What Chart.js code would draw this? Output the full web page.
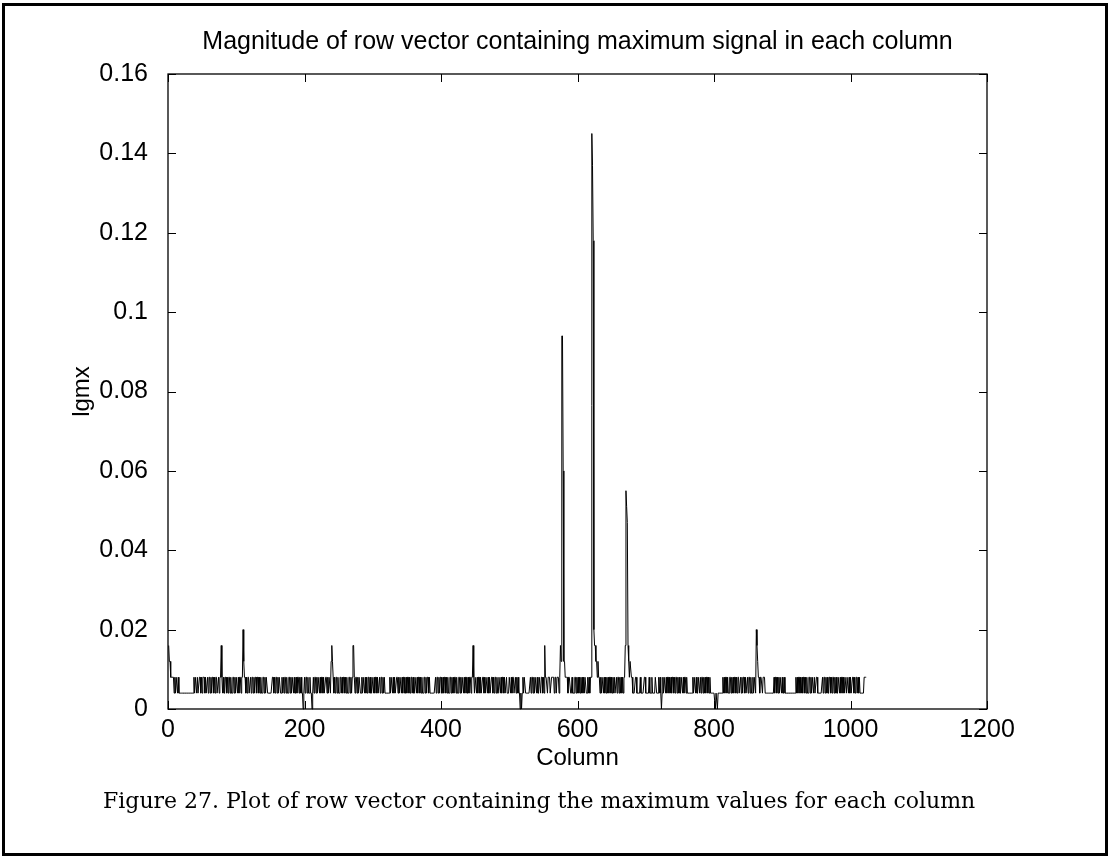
<!DOCTYPE html>
<html>
<head>
<meta charset="utf-8">
<script src="https://cdn.jsdelivr.net/npm/chart.js@4.4.1/dist/chart.umd.min.js"></script>
<style>
html, body { margin: 0; padding: 0; background: #fff; }
#wrap { position: relative; width: 1111px; height: 860px; overflow: hidden; background: #fff; }
#c { position: absolute; left: 0; top: 0; }
#frame { position: absolute; left: 2px; top: 3px; width: 1100px; height: 847px; border: 3px solid #000; pointer-events: none; }
#caption { position: absolute; left: 103px; top: 788px; white-space: nowrap; font-family: "DejaVu Serif", "Liberation Serif", serif; font-size: 22px; line-height: 26px; color: #000; }
</style>
</head>
<body>
<div id="wrap">
  <canvas id="c" width="1111" height="860"></canvas>
  <div id="frame"></div>
  <div id="caption">Figure 27. Plot of row vector containing the maximum values for each column</div>
</div>
<script>
// ---- text ----
const chartTitle = 'Magnitude of row vector containing maximum signal in each column';
const xAxisTitle = 'Column';
const yAxisTitle = 'lgmx';

// ---- ticks ----
const xTickValues = [0, 200, 400, 600, 800, 1000, 1200];
const xTickLabels = ['0', '200', '400', '600', '800', '1000', '1200'];
const yTickValues = [0, 0.02, 0.04, 0.06, 0.08, 0.1, 0.12, 0.14, 0.16];
const yTickLabels = ['0', '0.02', '0.04', '0.06', '0.08', '0.1', '0.12', '0.14', '0.16'];

// ---- series: lgmx value for each column (1..1024) ----
const lgmx = [
.016,.012,.012,.008,.008,.008,.008,.008,.004,.008,.004,.008,.008,.004,.008,.004,.004,.004,.004,.004,.004,.004,.004,.004,.004,.004,.004,.004,.004,.004,.004,.004,
.004,.004,.004,.004,.004,.008,.004,.008,.008,.004,.008,.004,.004,.008,.008,.004,.008,.004,.008,.008,.008,.004,.008,.004,.004,.008,.004,.008,.008,.004,.008,.004,
.008,.008,.004,.008,.004,.008,.008,.004,.004,.008,.004,.008,.008,.016,.008,.004,.008,.004,.004,.008,.008,.004,.008,.004,.008,.008,.004,.008,.004,.004,.008,.008,
.004,.008,.004,.008,.008,.004,.008,.004,.008,.008,.004,.008,.008,.02,.012,.008,.008,.004,.008,.004,.008,.008,.004,.004,.008,.004,.008,.008,.004,.008,.004,.008,
.008,.004,.008,.008,.004,.008,.004,.008,.004,.004,.008,.008,.004,.008,.004,.008,.008,.004,.004,.004,.004,.004,.004,.004,.008,.008,.004,.008,.004,.008,.008,.004,
.008,.004,.008,.008,.004,.004,.008,.004,.008,.004,.008,.008,.004,.008,.004,.004,.008,.008,.004,.008,.004,.008,.008,.004,.008,.004,.004,.008,.004,.008,.008,.004,
.008,.004,.008,.004,.004,0,.004,.008,.004,.008,.008,.004,.008,.004,.004,.008,.004,.004,0,.004,.008,.004,.008,.008,.004,.008,.004,.008,.008,.004,.008,.004,
.008,.008,.004,.008,.004,.004,.008,.008,.004,.008,.004,.008,.008,.004,.012,.016,.012,.008,.004,.008,.004,.008,.008,.004,.008,.004,.004,.008,.008,.004,.008,.004,
.008,.008,.004,.008,.004,.008,.004,.004,.008,.008,.004,.008,.004,.008,.016,.016,.008,.004,.008,.008,.004,.008,.004,.008,.008,.004,.004,.008,.004,.008,.008,.004,
.008,.004,.008,.004,.008,.008,.004,.008,.004,.004,.008,.008,.004,.008,.004,.008,.008,.004,.008,.004,.004,.008,.004,.008,.008,.004,.008,.004,.008,.004,.004,.004,
.004,.004,.004,.004,.008,.004,.008,.008,.004,.008,.004,.008,.004,.004,.008,.008,.004,.008,.004,.008,.008,.004,.008,.004,.008,.008,.004,.004,.008,.004,.008,.008,
.004,.008,.004,.008,.008,.004,.008,.004,.004,.008,.008,.004,.008,.004,.008,.008,.004,.008,.004,.008,.004,.004,.008,.008,.004,.008,.004,.008,.008,.004,.008,.004,
.004,.004,.004,.004,.004,.004,.004,.008,.004,.008,.008,.004,.008,.004,.008,.008,.004,.004,.008,.004,.008,.008,.004,.008,.004,.008,.004,.004,.008,.008,.004,.008,
.004,.008,.004,.008,.008,.004,.008,.004,.004,.008,.008,.004,.008,.004,.008,.008,.004,.008,.004,.008,.008,.004,.004,.008,.004,.008,.008,.004,.008,.008,.016,.008,
.004,.008,.008,.004,.008,.004,.008,.008,.004,.008,.004,.004,.008,.008,.004,.008,.004,.008,.008,.004,.008,.004,.008,.004,.004,.008,.008,.004,.008,.004,.008,.008,
.004,.008,.004,.004,.008,.008,.004,.008,.004,.008,.008,.004,.008,.004,.004,.008,.004,.004,.004,.008,.008,.004,.008,.004,.008,.008,.004,.004,.008,.004,.008,.004,
.008,.004,.004,0,.004,0,.004,.008,.004,.008,.008,.004,.004,.004,.004,.004,.004,.004,.008,.004,.008,.008,.004,.008,.004,.008,.008,.004,.008,.004,.004,.008,
.008,.004,.008,.008,.004,.008,.004,.016,.008,.008,.008,.004,.008,.008,.008,.004,.004,.008,.008,.008,.008,.004,.008,.008,.004,.008,.008,.008,.004,.008,.016,.012,
.094,.094,.06,.012,.012,.008,.008,.008,.008,.004,.008,.008,.008,.004,.004,.008,.004,.004,.004,.008,.008,.004,.008,.004,.008,.004,.008,.004,.008,.004,.008,.004,
.008,.004,.008,.008,.004,.004,.008,.004,.008,.004,.008,.008,.145,.137,.118,.02,.016,.016,.012,.012,.008,.012,.008,.008,.004,.008,.004,.008,.008,.004,.008,.004,
.008,.004,.008,.004,.008,.004,.008,.008,.004,.008,.004,.008,.004,.008,.004,.004,.008,.004,.008,.008,.004,.008,.004,.008,.004,.008,.004,.008,.008,.016,.055,.051,
.047,.016,.012,.008,.012,.012,.008,.008,.004,.004,.004,.004,.008,.008,.004,.004,.004,.004,.004,.008,.004,.004,.004,.004,.004,.008,.008,.004,.004,.004,.004,.004,
.008,.004,.004,.004,.008,.004,.004,.004,.004,.008,.008,.004,.004,.004,.008,.004,.008,.004,0,.004,.008,.004,.008,.008,.004,.008,.004,.008,.008,.004,.008,.004,
.008,.004,.008,.008,.004,.008,.004,.008,.008,.004,.008,.004,.008,.004,.004,.008,.008,.004,.008,.004,.008,.008,.004,.008,.004,.004,.004,.004,.004,.004,.004,.004,
.008,.004,.008,.008,.004,.008,.004,.004,.008,.008,.004,.008,.004,.008,.008,.004,.008,.004,.008,.004,.008,.008,.004,.008,.004,.008,.004,.004,.004,.004,.004,.004,
.004,0,.004,.004,0,.004,.004,.004,.004,.004,.004,.004,.008,.004,.008,.004,.008,.008,.004,.008,.004,.004,.008,.008,.004,.008,.004,.008,.004,.008,.008,.004,
.008,.004,.008,.008,.004,.004,.008,.004,.008,.004,.008,.008,.004,.008,.004,.004,.008,.004,.008,.008,.004,.008,.004,.004,.008,.004,.008,.008,.004,.02,.016,.012,
.008,.008,.004,.008,.008,.008,.004,.008,.008,.008,.004,.004,.004,.004,.004,.004,.004,.004,.004,.004,.004,.004,.004,.008,.004,.008,.008,.004,.008,.004,.008,.004,
.008,.008,.004,.008,.004,.004,.008,.004,.004,.004,.004,.004,.004,.004,.004,.004,.004,.004,.004,.004,.004,.004,.004,.008,.004,.008,.004,.008,.008,.004,.008,.004,
.008,.004,.008,.008,.004,.008,.004,.008,.004,.004,.008,.008,.004,.008,.004,.008,.008,.004,.008,.004,.004,.008,.008,.004,.004,.004,.004,.004,.004,.004,.008,.004,
.008,.008,.004,.008,.004,.008,.004,.004,.008,.008,.004,.008,.004,.008,.008,.004,.008,.004,.008,.004,.004,.008,.008,.004,.008,.004,.008,.008,.004,.008,.004,.008,
.008,.004,.008,.008,.004,.008,.004,.008,.004,.004,.008,.008,.004,.008,.004,.008,.008,.004,.008,.004,.008,.004,.004,.004,.004,.004,.004,.008,.008,.008,.008,.008
];
// column index of each value
const columns = lgmx.map((_, i) => i + 1);

const FONT = '"Liberation Sans", Arial, Helvetica, sans-serif';

const matlabBox = {
  id: 'matlabBox',
  beforeDatasetsDraw(chart) {
    const { ctx, chartArea: a, scales: { x, y } } = chart;
    ctx.save();
    ctx.strokeStyle = '#000';
    ctx.lineWidth = 1.3;
    ctx.strokeRect(a.left, a.top, a.right - a.left, a.bottom - a.top);
    ctx.lineWidth = 1;
    const tl = 8;
    ctx.beginPath();
    x.ticks.forEach(t => {
      const px = Math.round(x.getPixelForValue(t.value)) + 0.5;
      ctx.moveTo(px, a.bottom); ctx.lineTo(px, a.bottom - tl);
      ctx.moveTo(px, a.top); ctx.lineTo(px, a.top + tl);
    });
    y.ticks.forEach(t => {
      const py = Math.round(y.getPixelForValue(t.value)) + 0.5;
      ctx.moveTo(a.left, py); ctx.lineTo(a.left + tl, py);
      ctx.moveTo(a.right, py); ctx.lineTo(a.right - tl, py);
    });
    ctx.stroke();
    ctx.restore();
  }
};

new Chart(document.getElementById('c'), {
  type: 'line',
  data: {
    datasets: [{
      label: yAxisTitle,
      data: columns.map((c, i) => ({ x: c, y: lgmx[i] })),
      borderColor: '#000',
      borderWidth: 1,
      pointRadius: 0,
      tension: 0,
      fill: false,
      clip: 4
    }]
  },
  options: {
    responsive: false,
    animation: false,
    devicePixelRatio: 1,
    layout: { padding: { left: 0, right: 124, top: 0, bottom: 0 } },
    plugins: {
      legend: { display: false },
      tooltip: { enabled: false },
      title: {
        display: true,
        fullSize: false,
        text: chartTitle,
        color: '#000',
        font: { family: FONT, size: 25, weight: 'normal', lineHeight: 1.2 },
        padding: { top: 27, bottom: 17 }
      }
    },
    scales: {
      x: {
        type: 'linear',
        min: 0, max: 1200,
        afterBuildTicks: s => { s.ticks = xTickValues.map(v => ({ value: v })); },
        afterFit: s => { s.height = 151; },
        ticks: {
          callback: (v, i) => xTickLabels[i],
          color: '#000',
          font: { family: FONT, size: 25 },
          padding: 6, maxRotation: 0, autoSkip: false
        },
        grid: { display: false, drawTicks: false },
        border: { display: false },
        title: {
          display: true, text: xAxisTitle, color: '#000',
          font: { family: FONT, size: 24, lineHeight: 1.2 },
          padding: { top: 0, bottom: 87 }
        }
      },
      y: {
        type: 'linear',
        min: 0, max: 0.16,
        afterBuildTicks: s => { s.ticks = yTickValues.map(v => ({ value: v })); },
        afterFit: s => { s.width = 168; },
        ticks: {
          callback: (v, i) => yTickLabels[i],
          color: '#000',
          font: { family: FONT, size: 25 },
          padding: 20, autoSkip: false
        },
        grid: { display: false, drawTicks: false },
        border: { display: false },
        title: {
          display: true, text: yAxisTitle, color: '#000',
          font: { family: FONT, size: 24, lineHeight: 1.2 },
          padding: { top: 68, bottom: 0 }
        }
      }
    }
  },
  plugins: [matlabBox]
});
</script>
</body>
</html>
